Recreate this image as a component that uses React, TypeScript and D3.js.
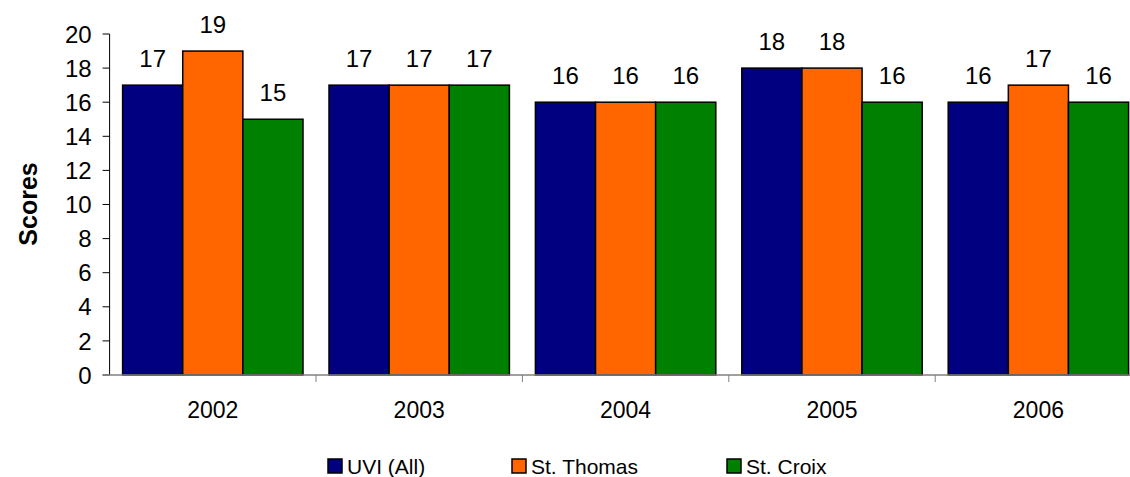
import React from "react";
import * as d3 from "d3";

const categories = ["2002", "2003", "2004", "2005", "2006"];
const seriesNames = ["UVI (All)", "St. Thomas", "St. Croix"];
const uviAll = [17, 17, 16, 18, 16];
const stThomas = [19, 17, 16, 18, 17];
const stCroix = [15, 17, 16, 16, 16];
const yTicks = [0, 2, 4, 6, 8, 10, 12, 14, 16, 18, 20];
const colors = ["#000080", "#FF6600", "#008000"];

const W = 1130;
const H = 477;
const FONT = "Arial, 'Liberation Sans', Helvetica, sans-serif";

export default function App() {
  const series = [uviAll, stThomas, stCroix];
  const x = d3.scaleBand<string>().domain(categories).range([109.6, 1141.6]).paddingInner(0).paddingOuter(0);
  const groupPad = 13;
  const inner = d3.scaleBand<number>().domain([0, 1, 2]).range([groupPad, x.bandwidth() - groupPad]);
  const y = d3.scaleLinear().domain([0, 20]).range([375, 34]);
  const x0 = 109.6;

  const legendItems = [
    { name: seriesNames[0], sx: 328, tx: 347 },
    { name: seriesNames[1], sx: 512, tx: 531 },
    { name: seriesNames[2], sx: 727, tx: 746 },
  ];

  return (
    <svg width={W} height={H} style={{ position: "absolute", left: 0, top: 0, background: "#fff" }} fontFamily={FONT}>
      {categories.map((c, ci) =>
        series.map((s, si) => (
          <rect
            key={c + si}
            x={(x(c) as number) + (inner(si) as number)}
            y={y(s[ci])}
            width={inner.bandwidth()}
            height={y(0) - y(s[ci])}
            fill={colors[si]}
            stroke="#000"
            strokeWidth={1.5}
          />
        ))
      )}
      {categories.map((c, ci) =>
        series.map((s, si) => (
          <text
            key={"l" + c + si}
            x={(x(c) as number) + (inner(si) as number) + inner.bandwidth() / 2}
            y={y(s[ci]) - 18}
            textAnchor="middle"
            fontSize={24}
            fill="#000"
          >
            {s[ci]}
          </text>
        ))
      )}
      <line x1={x0} x2={x0} y1={y(20)} y2={y(0)} stroke="#000" strokeWidth={1} />
      {yTicks.map((t) => (
        <g key={"yt" + t}>
          <line x1={x0 - 7} x2={x0} y1={y(t)} y2={y(t)} stroke="#000" strokeWidth={1} />
          <text x={x0 - 18} y={y(t)} dy="0.36em" textAnchor="end" fontSize={24} fill="#000">
            {t}
          </text>
        </g>
      ))}
      <line x1={x0 - 7} x2={1141.6} y1={y(0)} y2={y(0)} stroke="#808080" strokeWidth={1.5} />
      {categories.map((c, ci) => (
        <g key={"xt" + c}>
          {ci > 0 && (
            <line x1={x(c) as number} x2={x(c) as number} y1={y(0)} y2={y(0) + 7} stroke="#808080" strokeWidth={1} />
          )}
          <text x={(x(c) as number) + x.bandwidth() / 2} y={418} textAnchor="middle" fontSize={23} fill="#000">
            {c}
          </text>
        </g>
      ))}
      <text
        transform={`translate(37,204) rotate(-90)`}
        textAnchor="middle"
        fontSize={25}
        fontWeight="bold"
        fill="#000"
      >
        Scores
      </text>
      {legendItems.map((l, i) => (
        <g key={"lg" + i}>
          <rect x={l.sx} y={459} width={14} height={14} fill={colors[i]} stroke="#000" strokeWidth={1.5} />
          <text x={l.tx} y={474} fontSize={21} fill="#000">
            {l.name}
          </text>
        </g>
      ))}
    </svg>
  );
}
